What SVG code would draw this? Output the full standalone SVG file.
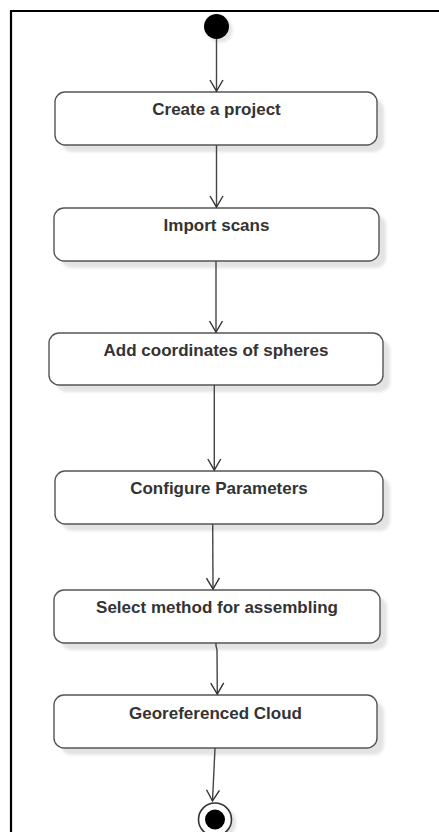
<svg xmlns="http://www.w3.org/2000/svg" width="439" height="832" viewBox="0 0 439 832">
<defs>
<filter id="sh" x="-10%" y="-30%" width="130%" height="170%"><feGaussianBlur stdDeviation="1.5"/></filter>
<marker id="arr" markerWidth="16" markerHeight="16" refX="12" refY="8" orient="auto" markerUnits="userSpaceOnUse" viewBox="0 0 16 16">
<path d="M1,1.5 L12,8 L1,14.5" fill="none" stroke="#333" stroke-width="1.4"/>
</marker>
</defs>
<style>
.box{fill:#fff;stroke:#555;stroke-width:1.4}
.shadow{fill:#e3e3e3;filter:url(#sh)}
.lbl{font-family:"Liberation Sans",Arial,sans-serif;font-size:17px;font-weight:bold;fill:#333;text-anchor:middle}
.edge{fill:none;stroke:#444;stroke-width:1.4}
</style>
<rect x="0" y="0" width="439" height="832" fill="#fff"/>
<path d="M11,832 L11,11 L439,11" fill="none" stroke="#000" stroke-width="2.2"/>

<g id="start">
<circle cx="220" cy="30" r="12.5" class="shadow"/>
<circle cx="216.5" cy="26.5" r="12.5" fill="#000"/>
</g>

<g id="n1">
<rect x="62" y="99" width="322" height="53" rx="10" class="shadow"/>
<rect x="55" y="92" width="322" height="53" rx="10" class="box"/>
<text x="216.5" y="115" class="lbl">Create a project</text>
</g>
<g id="n2">
<rect x="61" y="215" width="325" height="53" rx="10" class="shadow"/>
<rect x="54" y="208" width="325" height="53" rx="10" class="box"/>
<text x="216.5" y="231" class="lbl">Import scans</text>
</g>
<g id="n3">
<rect x="56" y="340" width="334" height="52" rx="10" class="shadow"/>
<rect x="49" y="333" width="334" height="52" rx="10" class="box"/>
<text x="216" y="355.5" class="lbl">Add coordinates of spheres</text>
</g>
<g id="n4">
<rect x="62" y="478" width="328" height="53" rx="10" class="shadow"/>
<rect x="55" y="471" width="328" height="53" rx="10" class="box"/>
<text x="219" y="493.5" class="lbl">Configure Parameters</text>
</g>
<g id="n5">
<rect x="61" y="597" width="326" height="53" rx="10" class="shadow"/>
<rect x="54" y="590" width="326" height="53" rx="10" class="box"/>
<text x="217" y="613" class="lbl">Select method for assembling</text>
</g>
<g id="n6">
<rect x="61" y="702" width="323" height="53" rx="10" class="shadow"/>
<rect x="54" y="695" width="323" height="53" rx="10" class="box"/>
<text x="215.5" y="718.5" class="lbl">Georeferenced Cloud</text>
</g>

<g id="end">
<circle cx="219" cy="823" r="17" class="shadow"/>
<circle cx="215" cy="819.5" r="16.5" fill="#fff" stroke="#333" stroke-width="1.6"/>
<circle cx="215" cy="819.5" r="10" fill="#000"/>
</g>

<g id="edges">
<path d="M216.5,39 L216.5,91" class="edge" marker-end="url(#arr)"/>
<path d="M216.5,145 L216.5,207" class="edge" marker-end="url(#arr)"/>
<path d="M216,261 L216,332" class="edge" marker-end="url(#arr)"/>
<path d="M214.3,385 L214.3,470" class="edge" marker-end="url(#arr)"/>
<path d="M212.7,524 L213,589" class="edge" marker-end="url(#arr)"/>
<path d="M216,643 L216,646 L217,650 L217.3,694" class="edge" marker-end="url(#arr)"/>
<path d="M215,748 L212.5,801" class="edge" marker-end="url(#arr)"/>
</g>
</svg>
